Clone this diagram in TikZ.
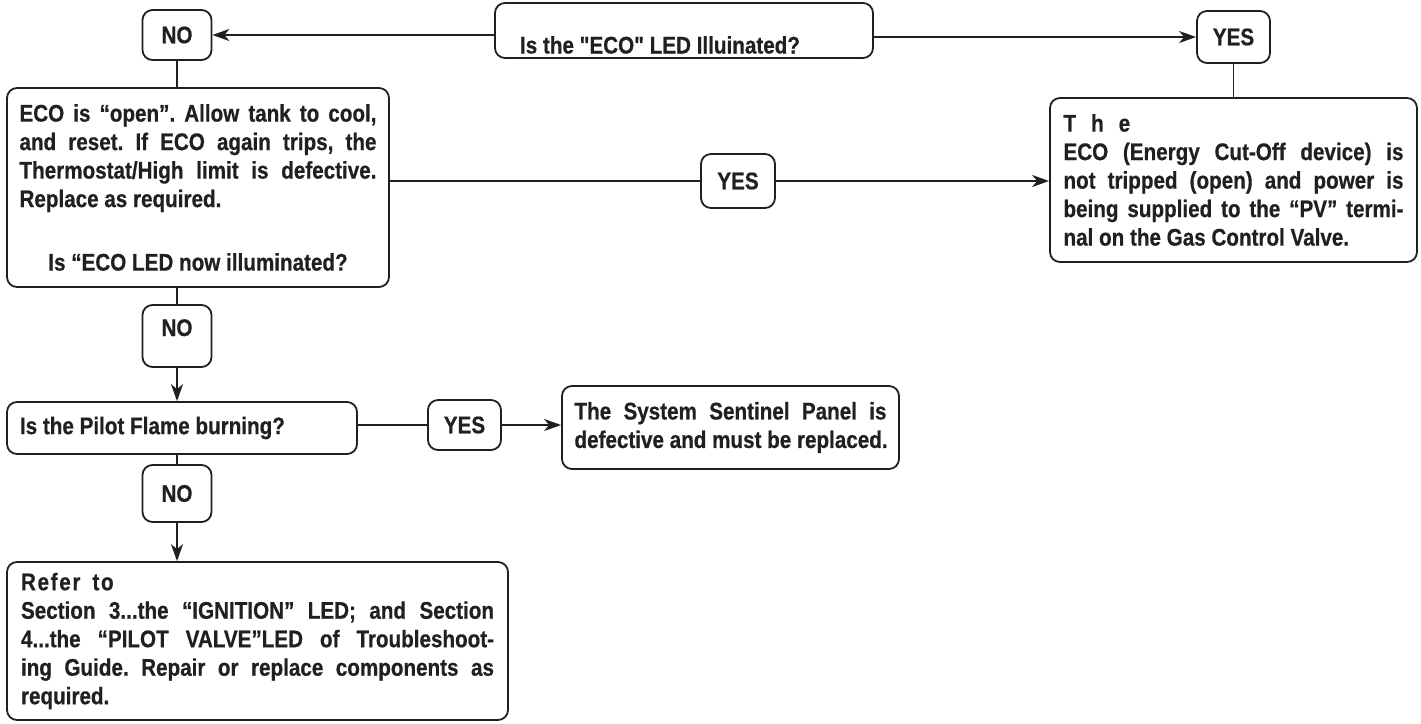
\documentclass[tikz,border=0pt]{standalone}
\usepackage{fontspec}
\newfontfamily\hf{Liberation Sans}[FakeStretch=0.86, FakeBold=0.6]
\usetikzlibrary{arrows.meta}
\definecolor{ink}{HTML}{231F20}
\newcommand\JL[2]{\makebox[#1][s]{\spaceskip=0pt\xspaceskip=0pt #2}}
\newcommand\LL[2]{\makebox[#1][l]{\spaceskip=0pt\xspaceskip=0pt #2}}
\frenchspacing
\begin{document}
\begin{tikzpicture}[x=1pt,y=-1pt,
  font=\hf\fontsize{24}{28.5}\selectfont\bfseries, text=ink,
  box/.style={draw=ink, line width=1.8pt, rounded corners=10pt, inner sep=0pt, align=center},
  conn/.style={draw=ink, line width=1.8pt},
  arr/.style={conn, -{Stealth[length=17pt,width=12pt,inset=5pt]}}]
\useasboundingbox (0,0) rectangle (1421,723);

\node[box, minimum width=69pt, minimum height=50pt] (n1) at (177,35) {NO};
\node[box, minimum width=378pt, minimum height=55pt] (q1) at (684,30.5)
  {\raisebox{-23pt}[0pt][0pt]{\makebox[0pt]{Is the "ECO" LED Illuinated?\hspace*{48pt}}}};
\node[box, minimum width=73pt, minimum height=52pt] (y1) at (1233.5,37) {YES};

\node[box, align=left, text width=340pt, minimum width=367pt, minimum height=164pt] (r1) at (1233.5,180)
  {\LL{340pt}{T\hspace{15pt}h\hspace{15pt}e}\\
   \JL{340pt}{ECO (Energy Cut-Off device) is}\\
   \JL{340pt}{not tripped (open) and power is}\\
   \JL{340pt}{being supplied to the “PV” termi-}\\
   \LL{340pt}{nal on the Gas Control Valve.}};

\node[box, align=left, text width=357pt, minimum width=382pt, minimum height=199pt] (a1) at (198,187.5)
  {\JL{357pt}{ECO is “open”. Allow tank to cool,}\\
   \JL{357pt}{and reset. If ECO again trips, the}\\
   \JL{357pt}{Thermostat/High limit is defective.}\\
   \LL{357pt}{Replace as required.}\\[35pt]
   \makebox[357pt]{\spaceskip=0pt Is “ECO LED now illuminated?}};

\node[box, minimum width=74pt, minimum height=54pt] (y2) at (738,181) {YES};

\node[box, minimum width=69pt, minimum height=62pt] (n2) at (177,336) {\raisebox{0pt}[0pt][0pt]{NO}};

\node[box, align=left, text width=324pt, minimum width=350pt, minimum height=52pt] (p1) at (182,428)
  {\LL{324pt}{Is the Pilot Flame burning?}};

\node[box, minimum width=69pt, minimum height=57pt] (n3) at (177,493.5) {NO};

\node[box, minimum width=73pt, minimum height=50pt] (y3) at (464.5,425) {YES};

\node[box, align=left, text width=312pt, minimum width=337pt, minimum height=83pt] (s1) at (730.5,427.5)
  {\JL{312pt}{The System Sentinel Panel is}\\
   \LL{312pt}{defective and must be replaced.}};

\node[box, align=left, text width=473pt, minimum width=501pt, minimum height=158pt] (f1) at (257.5,641)
  {\LL{473pt}{{\addfontfeature{LetterSpace=7}Refer}\hspace{12pt}{\addfontfeature{LetterSpace=7}to}}\\
   \JL{473pt}{Section 3...the “IGNITION” LED; and Section}\\
   \JL{473pt}{4...the “PILOT VALVE”LED of Troubleshoot-}\\
   \JL{473pt}{ing Guide. Repair or replace components as}\\
   \LL{473pt}{required.}};

\draw[arr] (q1.west |- n1.east) -- (n1.east);
\draw[arr] (q1.east |- y1.west) -- (y1.west);
\draw[conn] (n1.south) -- (n1.south |- a1.north);
\draw[conn] (y1.south) -- (y1.south |- r1.north);
\draw[conn] (a1.east |- y2.west) -- (y2.west);
\draw[arr] (y2.east) -- (r1.west |- y2.east);
\draw[conn] (n2.north |- a1.south) -- (n2.north);
\draw[arr] (n2.south) -- (n2.south |- p1.north);
\draw[conn] (n3.north |- p1.south) -- (n3.north);
\draw[arr] (n3.south) -- (n3.south |- f1.north);
\draw[conn] (p1.east |- y3.west) -- (y3.west);
\draw[arr] (y3.east) -- (s1.west |- y3.east);
\end{tikzpicture}
\end{document}
